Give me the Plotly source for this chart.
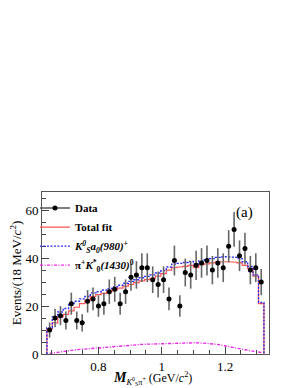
import numpy as np
import plotly.graph_objects as go

# ---- data ----
m_lo = 0.637
m_hi = 1.323
n_bins = 40

data_counts = [10, 15, 16, 14, 21, 14, 13, 22, 23, 20,
               21, 26, 27, 21, 26, 32, 33, 36, 36, 31,
               29, 31, 23, 39, 20, 34, 33, 37, 38, 39,
               35, 38, 36, 45, 52, 41, 44, 35, 36, 30]

total_fit = [10.5, 13.0, 15.5, 16.5, 18.0, 19.5, 21.0, 22.5, 24.0, 24.8,
             25.3, 26.0, 26.8, 27.5, 28.3, 29.0, 29.8, 30.5, 31.0, 31.6,
             32.5, 33.5, 35.0, 36.0, 36.3, 36.6, 37.0, 36.0, 37.3, 37.6,
             38.0, 38.3, 38.5, 38.5, 38.3, 38.0, 37.0, 35.6, 32.5, 21.0]

ks_a0 = [11.0, 15.5, 17.5, 19.0, 21.0, 22.0, 23.0, 24.0, 25.5, 26.0,
         26.7, 27.3, 28.0, 28.7, 29.5, 30.3, 31.0, 31.8, 32.4, 33.0,
         33.8, 34.8, 36.3, 37.5, 37.8, 38.2, 38.6, 37.6, 38.8, 39.3,
         39.8, 40.3, 40.6, 40.6, 40.3, 39.8, 38.5, 36.5, 33.0, 21.5]

pi_k0 = [0.2, 0.6, 0.9, 1.2, 1.5, 1.8, 2.0, 2.3, 2.5, 2.7,
         2.9, 3.1, 3.3, 3.5, 3.6, 3.8, 3.9, 4.0, 4.1, 4.2,
         4.3, 4.4, 4.5, 4.6, 4.6, 4.7, 4.7, 4.7, 4.6, 4.5,
         4.3, 4.0, 3.5, 3.0, 2.6, 2.2, 1.8, 1.4, 1.0, 0.6]

x_tickvals = [0.8, 1.0, 1.2]
x_ticktext = ["0.8", "1", "1.2"]
y_tickvals = [0, 20, 40, 60]

edges = np.linspace(m_lo, m_hi, n_bins + 1)
centers = 0.5 * (edges[:-1] + edges[1:])


def step(vals):
    xs = [edges[0]]
    ys = [0]
    for i, v in enumerate(vals):
        xs += [edges[i], edges[i + 1]]
        ys += [v, v]
    xs.append(edges[-1])
    ys.append(0)
    return xs, ys


FONT = "Liberation Serif"
fig = go.Figure()

sx, sy = step(total_fit)
fig.add_trace(go.Scatter(x=sx, y=sy, mode="lines", name="<b>Total fit</b>",
                         line=dict(color="#ff5555", width=1.2), legendrank=2))
sx, sy = step(ks_a0)
fig.add_trace(go.Scatter(x=sx, y=sy, mode="lines",
                         name="<b><i>K<sup>0</sup><sub>S</sub>a<sub>0</sub>(980)<sup>+</sup></i></b>",
                         line=dict(color="#2a2aee", width=1.4, dash="2px,1.5px"), legendrank=3))
fig.add_trace(go.Scatter(x=list(centers), y=pi_k0, mode="lines",
                         name="<b>π<sup>+</sup><i>K</i><sup>*</sup><sub>0</sub><i>(1430)</i><sup>0</sup></b>",
                         line=dict(color="#ee22ee", width=1.4, dash="3px,1.5px,1px,1.5px"), legendrank=4))

err = np.sqrt(np.array(data_counts, dtype=float))
fig.add_trace(go.Scatter(x=list(centers), y=data_counts, mode="markers", showlegend=False,
                         marker=dict(color="black", size=5),
                         error_y=dict(type="data", array=list(err), color="#666666",
                                      thickness=1.6, width=0)))
fig.add_trace(go.Scatter(x=[None], y=[None], mode="lines+markers", name="<b>Data</b>",
                         line=dict(color="#555555", width=1.5),
                         marker=dict(color="black", size=5), legendrank=1))

fig.add_annotation(x=1.262, y=59, text="(a)", showarrow=False, xref="x", yref="y",
                   font=dict(family=FONT, size=15, color="black"))

fig.add_annotation(x=0.485, y=0, xref="paper", yref="paper", yshift=-24,
                   xanchor="center", yanchor="middle", showarrow=False,
                   text="<span style='font-size:14px'><b><i>M</i></b></span><sub><i>K</i><sup>0</sup><sub>S</sub>π<sup>+</sup></sub> (GeV/<i>c</i><sup>2</sup>)",
                   font=dict(family=FONT, size=12, color="black"))

fig.update_layout(
    width=292, height=380,
    margin=dict(l=34, r=31, t=184, b=34, autoexpand=False),
    paper_bgcolor="white", plot_bgcolor="white",
    font=dict(family=FONT, size=13, color="black"),
    showlegend=True,
    legend=dict(x=-0.031, y=0.99, xanchor="left", yanchor="top",
                bgcolor="rgba(0,0,0,0)", font=dict(family=FONT, size=11),
                tracegroupgap=0, itemwidth=30),
)
fig.update_xaxes(range=[0.6215, 1.339], tickvals=x_tickvals, ticktext=x_ticktext,
                 ticks="inside", ticklen=7, tickcolor="#444", showline=True,
                 linecolor="#555", linewidth=1, mirror=True, showgrid=False,
                 zeroline=False,
                 minor=dict(dtick=0.05, tick0=0.6, ticks="inside", ticklen=4, tickcolor="#444"),
                 tickfont=dict(family=FONT, size=13))
fig.update_yaxes(range=[0, 67.6], tickvals=y_tickvals,
                 ticks="inside", ticklen=7, tickcolor="#444", showline=True,
                 linecolor="#555", linewidth=1, mirror=True, showgrid=False,
                 zeroline=False,
                 minor=dict(dtick=5, ticks="inside", ticklen=4, tickcolor="#444"),
                 tickfont=dict(family=FONT, size=13),
                 title=dict(text="Events/(18 MeV/<i>c</i><sup>2</sup>)",
                            font=dict(family=FONT, size=13), standoff=6))

fig.write_html("out.html")
